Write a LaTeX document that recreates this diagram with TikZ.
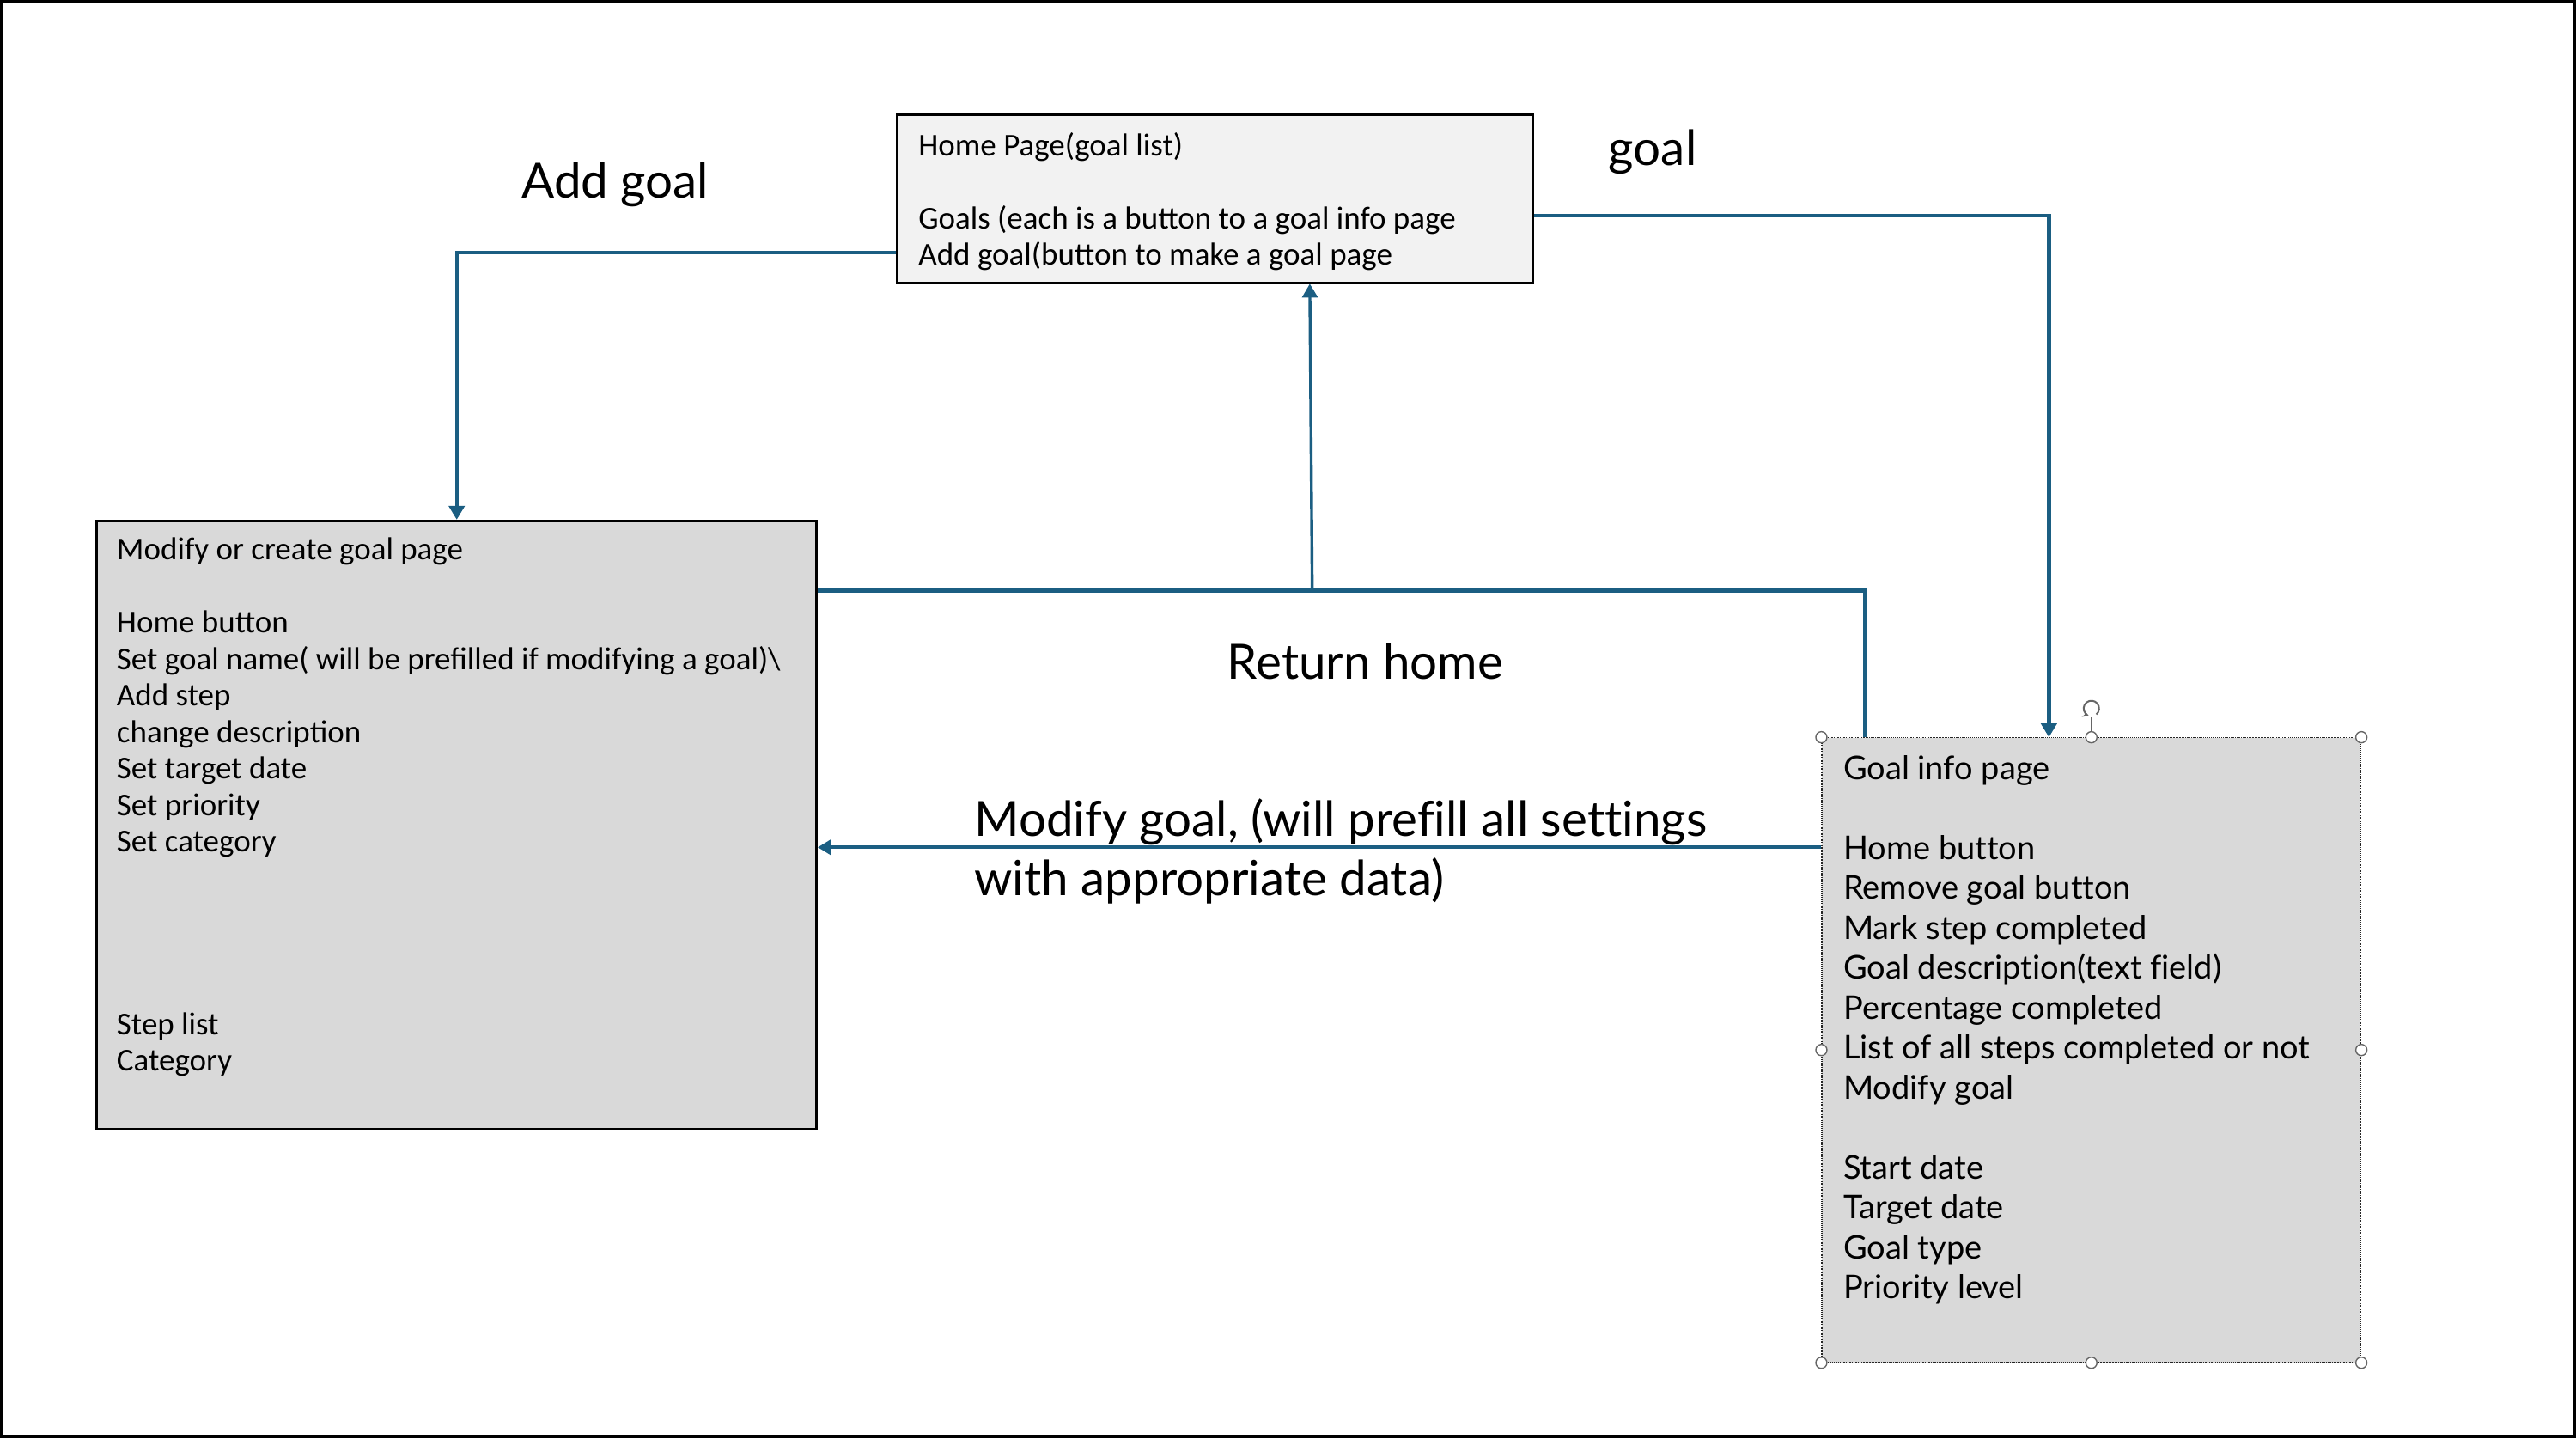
\documentclass[tikz,border=0pt]{standalone}
\usepackage{fontspec}
\setmainfont{Carlito}
\newfontfamily\widefont[Ligatures=NoCommon]{Lato}
\usetikzlibrary{arrows.meta,calc}
\definecolor{connc}{HTML}{1B5E82}
\definecolor{homefill}{HTML}{F2F2F2}
\definecolor{boxfill}{HTML}{D9D9D9}
\begin{document}
\begin{tikzpicture}[x=1.9126pt,y=-1.9126pt,
  pagebox/.style={rectangle,draw=black,line width=2.8pt,inner sep=0pt},
  narrowtxt/.style={anchor=north west,inner sep=0pt,align=left,font=\fontsize{37pt}{42.5pt}\selectfont},
  widetxt/.style={anchor=north west,inner sep=0pt,align=left,font=\widefont\fontsize{38pt}{46.5pt}\selectfont},
  lbl/.style={inner sep=0pt,font=\widefont\fontsize{56.5pt}{69pt}\selectfont},
  conn/.style={draw=connc,line width=4.3pt},
  tip/.style={-{Triangle[width=18pt,length=16pt]}},
  handle/.style={circle,draw=gray!80!black,fill=white,line width=1.4pt,minimum size=13pt,inner sep=0pt}]
\useasboundingbox (0,0) rectangle (1568,875.25);
\draw[line width=4pt] (1,1) rectangle (1567,874.2);

% boxes
\node[pagebox,fill=homefill,minimum width=387*1.9126pt,minimum height=102*1.9126pt] (home) at (739.5,121) {};
\node[pagebox,fill=boxfill,minimum width=438*1.9126pt,minimum height=370*1.9126pt] (modify) at (278,502) {};
\node[rectangle,fill=boxfill,draw=black!85,densely dotted,line width=1.3pt,minimum width=328*1.9126pt,minimum height=380*1.9126pt,inner sep=0pt] (info) at (1273,639) {};

% texts
\node[narrowtxt] (hometxt) at (559,79) {\rule{0pt}{30pt}Home Page(goal list)\\[42.5pt]
Goals (each is a button to a goal info page\\
Add goal(button to make a goal page};
\node[narrowtxt] (modtxt) at (71,325) {\rule{0pt}{30pt}Modify or create goal page\\[42.5pt]
Home button\\
Set goal name( will be prefilled if modifying a goal)\textbackslash\\
Add step\\
change description\\
Set target date\\
Set priority\\
Set category\\[170pt]
Step list\\
Category};
\node[widetxt] (infotxt) at (1122,458.5) {\rule{0pt}{30pt}Goal info page\\[46.5pt]
Home button\\
Remove goal button\\
Mark step completed\\
Goal description(text field)\\
Percentage completed\\
List of all steps completed or not\\
Modify goal\\[46.5pt]
Start date\\
Target date\\
Goal type\\
Priority level};

% labels
\node[lbl,anchor=base] (laddgoal) at (374.5,120.5) {Add goal};
\node[lbl,anchor=base] (lgoal) at (1006,100.5) {goal};
\node[lbl,anchor=base] (lreturn) at (831,413.5) {Return home};
\node[lbl,anchor=north west,align=left] (lmodify) at (593,486) {\rule{0pt}{40pt}Modify goal, (will prefill all settings\\with appropriate data)};

% connectors
\coordinate (addA) at ($(home.south west)+(0,-19)$);
\draw[conn,tip] (addA) -| (modify.north);

\coordinate (goalA) at ($(home.north east)+(0,62)$);
\coordinate (goalB) at ($(info.north west)+(138.5,0)$);
\draw[conn,tip] (goalA) -| (goalB);

\coordinate (retA) at ($(modify.north east)+(0,43)$);
\coordinate (retB) at ($(info.north west)+(26.5,0)$);
\draw[conn,line width=5pt] (retA) -| (retB);
\coordinate (jn) at ($(modify.north east)+(301,43)$);
\coordinate (homeIn) at ($(home.south west)+(252,0)$);
\draw[conn,line width=3.4pt,tip] (jn) -- (homeIn);

\coordinate (modA) at ($(info.north west)+(0,67)$);
\draw[conn,tip] (modA) -- (modify.east |- modA);

% selection handles
\draw[gray!80!black,line width=1.4pt] (info.north) -- ++(0,-12) coordinate (rotbase);
\coordinate (rotc) at ($(rotbase)+(0,-5.5)$);
\draw[gray!80!black,line width=2pt,-{Stealth[length=7pt,width=8pt]}] ($(rotc)+(-50:9pt)$) arc[start angle=-50,end angle=250,radius=9pt];
\foreach \a in {north west,north,north east,east,south east,south,south west,west}
  \node[handle] at (info.\a) {};
\end{tikzpicture}
\end{document}
